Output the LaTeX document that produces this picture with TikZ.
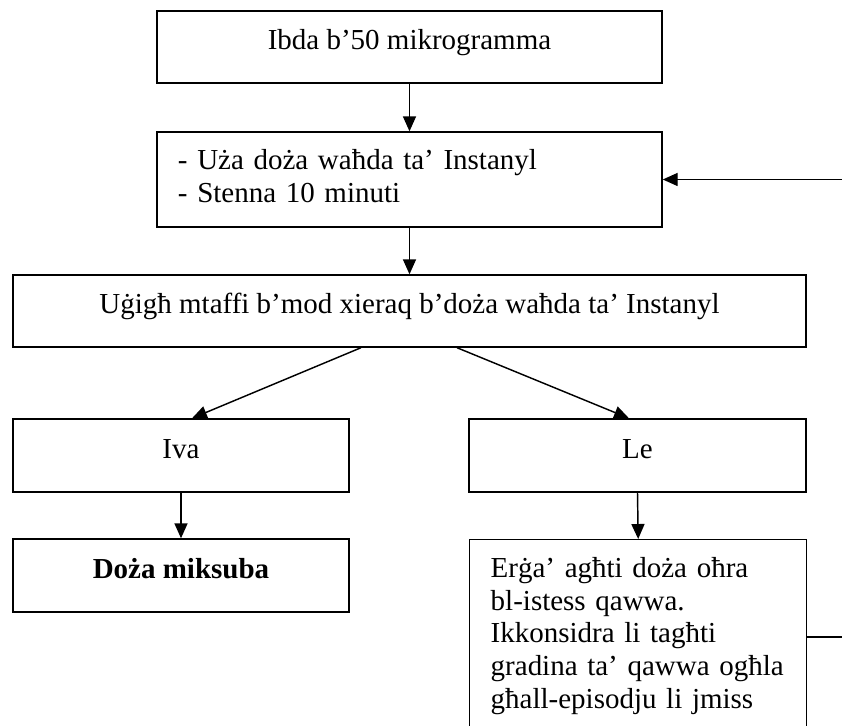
\documentclass[tikz,border=0pt]{standalone}
\usepackage{fontspec}
\setmainfont{Liberation Serif}
\usetikzlibrary{arrows.meta,calc}

\tikzset{
    box/.style={draw, line width=0.6pt, rectangle, inner sep=0pt, font=\fontsize{12}{13.5}\selectfont},
    single/.style={box, text height=8.4pt, text depth=6.3pt},
    flow/.style={-{Triangle[length=6.2pt,width=5.4pt]}, line width=0.6pt}
}

\begin{document}
\begin{tikzpicture}[x=0.414pt, y=-0.414pt]
    \useasboundingbox (0,0) rectangle (842,726);
    \clip (0,0) rectangle (842,726);

    \node[single, minimum width=209.1pt, minimum height=29.8pt](start) at (409.5,47) {Ibda b’50 mikrogramma};
    \node[box, minimum width=209.1pt, minimum height=39.3pt, text width=191.7pt, align=left, font=\fontsize{12}{13.7}\selectfont, text depth=17pt](dose) at (409.5,179.5) {- Uża doża waħda ta’ Instanyl\\- Stenna 10 minuti};
    \node[single, minimum width=328.3pt, minimum height=29.8pt](check) at (409.5,311) {Uġigħ mtaffi b’mod xieraq b’doża waħda ta’ Instanyl};

    \node[single, minimum width=139.1pt, minimum height=30.2pt](yes) at (181,455.5) {Iva};
    \node[single, minimum width=139.5pt, minimum height=30.2pt](no) at (637.5,455.5) {Le};
    \node[single, minimum width=139.1pt, minimum height=30.2pt, font=\fontsize{12}{13.5}\selectfont\bfseries](done) at (181,575.5) {Doża miksuba};
    \node[box, anchor=north west, text width=122.1pt, inner xsep=8.7pt, inner ysep=7.4pt, text depth=90pt, align=left](again) at (469,539) {Erġa’ agħti doża oħra\\bl-istess qawwa.\\Ikkonsidra li tagħti\\gradina ta’ qawwa ogħla\\għall-episodju li jmiss};

    \coordinate (loopin) at (842,179.5);
    \coordinate (loopout) at (842,637);

    \draw[flow](start.south)--(dose.north);
    \draw[flow](dose.south)--(check.north);
    \draw[flow]($(check.south)+(-48.5,0)$)--($(yes.north)+(11,0)$);
    \draw[flow]($(check.south)+(47.5,0)$)--($(no.north)+(-8.5,0)$);
    \draw[flow](yes.south)--(done.north);
    \draw[flow](no.south)--(again.north);

    \draw[flow](loopin)--(dose.east);
    \draw[line width=0.6pt](again.east |- loopout)--(loopout);
\end{tikzpicture}
\end{document}
